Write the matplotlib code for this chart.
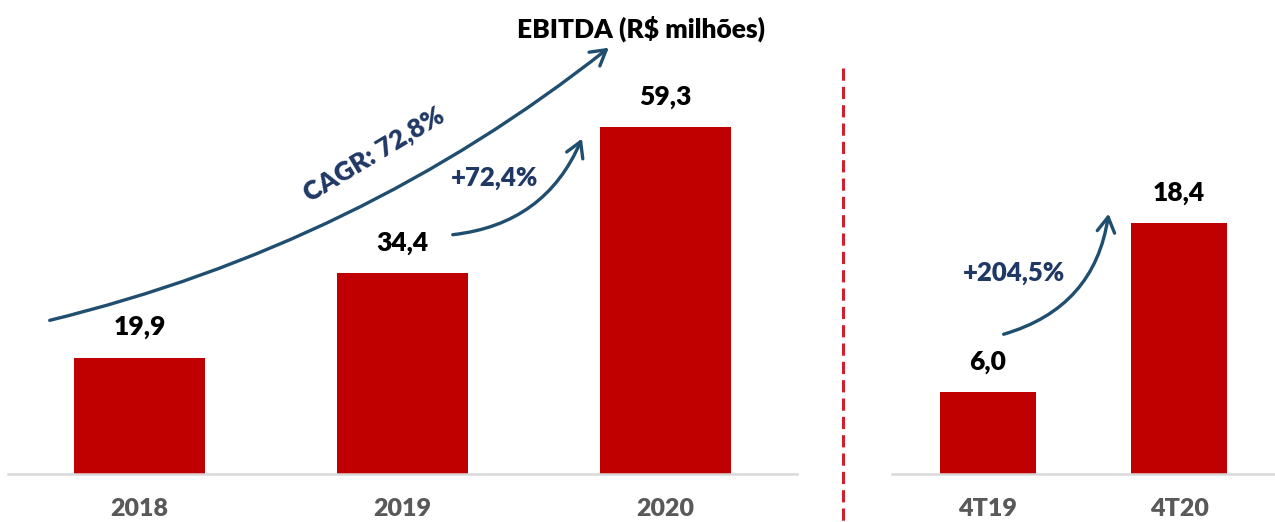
import matplotlib.pyplot as plt
from matplotlib.patches import FancyArrowPatch
from matplotlib.lines import Line2D

# data
anos = ["2018", "2019", "2020"]
ebitda_anual = [19.9, 34.4, 59.3]
trimestres = ["4T19", "4T20"]
ebitda_tri = [6.0, 18.4]

titulo = "EBITDA (R$ milhões)"
cagr_txt = "CAGR: 72,8%"
var_anual_txt = "+72,4%"
var_tri_txt = "+204,5%"

RED = "#c00000"
NAVY = "#203864"
ARROW = "#1f4e6f"
GRAY = "#595959"
WEIGHT = "heavy"

plt.rcParams["font.family"] = ["Lato", "DejaVu Sans"]

W, H = 1275, 522
fig = plt.figure(figsize=(W / 100, H / 100), dpi=100)


def px(x, y):
    return (x / W, 1 - y / H)


def style(ax):
    for s in ["top", "left", "right"]:
        ax.spines[s].set_visible(False)
    ax.spines["bottom"].set_color("#d9d9d9")
    ax.spines["bottom"].set_linewidth(1.8)
    ax.set_yticks([])
    ax.tick_params(axis="x", length=0, pad=17, labelsize=18, labelcolor=GRAY)
    for t in ax.get_xticklabels():
        t.set_fontweight(WEIGHT)


ax1 = fig.add_axes([8 / W, 48 / H, 789 / W, 474 / H])
ax1.bar(anos, ebitda_anual, width=0.5, color=RED)
ax1.set_xlim(-0.5, 2.5)
ax1.set_ylim(0, 81.0)
for i, v in enumerate(ebitda_anual):
    ax1.annotate(f"{v:.1f}".replace(".", ","), (i, v), xytext=(0, 13),
                 textcoords="offset points", ha="center", va="bottom",
                 fontsize=19, fontweight=WEIGHT, color="black")
style(ax1)

ax2 = fig.add_axes([892 / W, 48 / H, 383 / W, 474 / H])
ax2.bar(trimestres, ebitda_tri, width=0.5, color=RED)
ax2.set_xlim(-0.5, 1.5)
ax2.set_ylim(0, 34.75)
for i, v in enumerate(ebitda_tri):
    ax2.annotate(f"{v:.1f}".replace(".", ","), (i, v), xytext=(0, 13),
                 textcoords="offset points", ha="center", va="bottom",
                 fontsize=19, fontweight=WEIGHT, color="black")
style(ax2)

# title
fig.text(*px(641, 29), titulo, ha="center", va="center",
         fontsize=19, fontweight=WEIGHT, color="black")

# dashed separator
fig.add_artist(Line2D([843 / W, 843 / W], [1 - 68 / H, 0], color="#d0202e",
                      lw=2.2, linestyle=(0, (4, 2)), transform=fig.transFigure))

# growth arrows
for start, end, rad in [((47, 321), (611, 46), 0.11),
                        ((450, 235), (583, 136), 0.3),
                        ((1001, 335), (1109, 211), 0.33)]:
    arr = FancyArrowPatch(px(*start), px(*end), transform=fig.transFigure,
                          connectionstyle=f"arc3,rad={rad}",
                          arrowstyle="->,head_length=0.6,head_width=0.35",
                          mutation_scale=18, lw=2.4, color=ARROW)
    fig.add_artist(arr)

fig.text(*px(374, 155), cagr_txt, ha="center", va="center", rotation=31,
         fontsize=19, fontweight=WEIGHT, color=NAVY)
fig.text(*px(495, 178), var_anual_txt, ha="center", va="center",
         fontsize=18.5, fontweight=WEIGHT, color=NAVY)
fig.text(*px(1014, 273), var_tri_txt, ha="center", va="center",
         fontsize=18.5, fontweight=WEIGHT, color=NAVY)

fig.savefig("out.png", dpi=100)
